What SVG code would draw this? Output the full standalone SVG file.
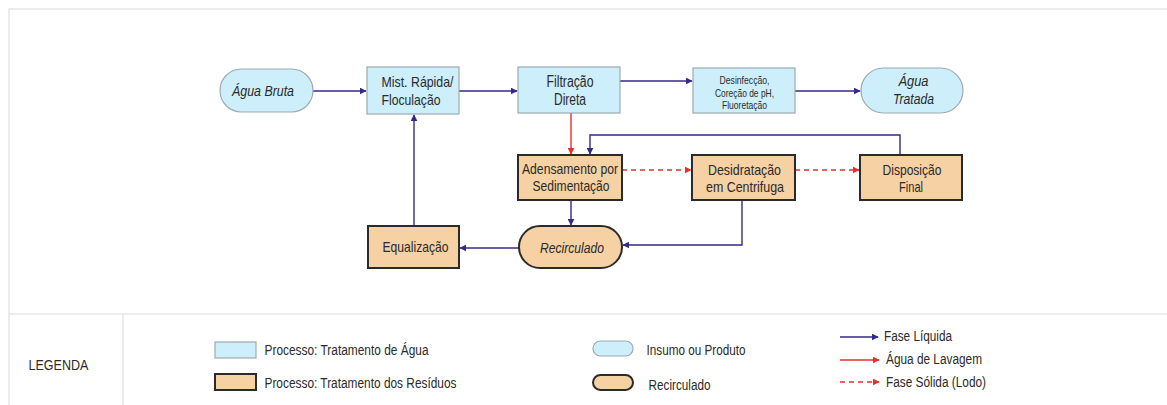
<svg xmlns="http://www.w3.org/2000/svg" width="1167" height="405" viewBox="0 0 1167 405">
<style>
  text { font-family: "Liberation Sans", Arial, sans-serif; fill: #2a2a2a; font-size: 14.5px; }
  .w { fill: #CDEFFB; stroke: #9EA9AD; stroke-width: 1.2; }
  .r { fill: #F6D1A3; stroke: #2b2b2b; stroke-width: 2; }
  .liq { fill: none; stroke: #35298A; stroke-width: 1.4; }
  .lav { fill: none; stroke: #E5302C; stroke-width: 1.4; }
  .sol { fill: none; stroke: #E5302C; stroke-width: 1.4; stroke-dasharray: 5 4; }
  .frame { fill: none; stroke: #e6e6e6; stroke-width: 1.5; }
  .n { text-anchor: middle; }
  .i { font-style: italic; }
  .s { font-size: 10.5px; }
  .lg { font-size: 14px; }
</style>
<defs>
  <marker id="aL" viewBox="0 0 10 10" refX="9" refY="5" markerWidth="7" markerHeight="7" markerUnits="userSpaceOnUse" orient="auto"><path d="M0,0 L10,5 L0,10 z" fill="#35298A"/></marker>
  <marker id="aR" viewBox="0 0 10 10" refX="9" refY="5" markerWidth="7" markerHeight="7" markerUnits="userSpaceOnUse" orient="auto"><path d="M0,0 L10,5 L0,10 z" fill="#E5302C"/></marker>
</defs>
<rect width="1167" height="405" fill="#fff"/>
<g id="frame">
  <path class="frame" d="M9,405 V9 H1167"/>
  <path class="frame" d="M9,314 H1167"/>
  <path class="frame" d="M123,314 V405"/>
</g>
<g id="connectors">
  <path class="liq" d="M313,91 H366" marker-end="url(#aL)"/>
  <path class="liq" d="M459,91 H517" marker-end="url(#aL)"/>
  <path class="liq" d="M620,81 H692" marker-end="url(#aL)"/>
  <path class="liq" d="M795,91 H860" marker-end="url(#aL)"/>
  <path class="lav" d="M571,113 V154" marker-end="url(#aR)"/>
  <path class="liq" d="M900,155 V135 H590 V154" marker-end="url(#aL)"/>
  <path class="sol" d="M622,170 H691" marker-end="url(#aR)"/>
  <path class="sol" d="M795,170 H859" marker-end="url(#aR)"/>
  <path class="liq" d="M571,200 V225" marker-end="url(#aL)"/>
  <path class="liq" d="M742,200 V245 H623" marker-end="url(#aL)"/>
  <path class="liq" d="M519,248 H460" marker-end="url(#aL)"/>
  <path class="liq" d="M414,226 V115" marker-end="url(#aL)"/>
</g>
<g id="agua-bruta">
  <rect class="w" x="220" y="69" width="93" height="43" rx="21.5"/>
  <text class="n i" x="263" y="96" textLength="62" lengthAdjust="spacingAndGlyphs">Água Bruta</text>
</g>
<g id="mist-rapida">
  <rect class="w" x="367" y="67" width="92" height="47"/>
  <text x="381.5" y="87" textLength="72" lengthAdjust="spacingAndGlyphs">Mist. Rápida/</text>
  <text x="381.5" y="105" textLength="59" lengthAdjust="spacingAndGlyphs">Floculação</text>
</g>
<g id="filtracao">
  <rect class="w" x="518" y="67" width="102" height="46"/>
  <text class="n" x="570" y="87" style="font-size:16px" textLength="47" lengthAdjust="spacingAndGlyphs">Filtração</text>
  <text class="n" x="570" y="105" style="font-size:16px" textLength="32" lengthAdjust="spacingAndGlyphs">Direta</text>
</g>
<g id="desinfeccao">
  <rect class="w" x="693" y="68" width="102" height="45"/>
  <text class="n s" x="744.5" y="84" textLength="50" lengthAdjust="spacingAndGlyphs">Desinfecção,</text>
  <text class="n s" x="744.5" y="96.5" textLength="59" lengthAdjust="spacingAndGlyphs">Coreção de pH,</text>
  <text class="n s" x="744.5" y="108.5" textLength="45" lengthAdjust="spacingAndGlyphs">Fluoretação</text>
</g>
<g id="agua-tratada">
  <rect class="w" x="861" y="68" width="102" height="45" rx="22.5"/>
  <text class="n i" x="913.5" y="86" textLength="30" lengthAdjust="spacingAndGlyphs">Água</text>
  <text class="n i" x="913.5" y="104" textLength="41" lengthAdjust="spacingAndGlyphs">Tratada</text>
</g>
<g id="adensamento">
  <rect class="r" x="518" y="155" width="104" height="45"/>
  <text class="n" x="570" y="174" textLength="96" lengthAdjust="spacingAndGlyphs">Adensamento por</text>
  <text class="n" x="571" y="190.5" textLength="77" lengthAdjust="spacingAndGlyphs">Sedimentação</text>
</g>
<g id="desidratacao">
  <rect class="r" x="692" y="155" width="103" height="45"/>
  <text class="n" x="744.5" y="175" textLength="73" lengthAdjust="spacingAndGlyphs">Desidratação</text>
  <text class="n" x="745" y="191.5" textLength="78" lengthAdjust="spacingAndGlyphs">em Centrifuga</text>
</g>
<g id="disposicao">
  <rect class="r" x="860" y="155" width="102" height="45"/>
  <text class="n" x="912" y="175" textLength="59" lengthAdjust="spacingAndGlyphs">Disposição</text>
  <text class="n" x="911" y="191.5" textLength="24" lengthAdjust="spacingAndGlyphs">Final</text>
</g>
<g id="equalizacao">
  <rect class="r" x="368" y="226" width="91" height="42"/>
  <text class="n" x="415.5" y="251.5" textLength="66" lengthAdjust="spacingAndGlyphs">Equalização</text>
</g>
<g id="recirculado">
  <rect class="r" x="519" y="226" width="103" height="42" rx="21"/>
  <text class="n i" x="572" y="253" textLength="64" lengthAdjust="spacingAndGlyphs">Recirculado</text>
</g>
<g id="legend">
  <text class="lg" x="28.5" y="370" textLength="60" lengthAdjust="spacingAndGlyphs">LEGENDA</text>
  <rect class="w" x="215" y="342" width="41" height="16"/>
  <text class="lg" x="264.5" y="354.5" textLength="164" lengthAdjust="spacingAndGlyphs">Processo: Tratamento de Água</text>
  <rect class="r" x="215" y="374" width="41" height="16"/>
  <text class="lg" x="264.5" y="387.5" textLength="192" lengthAdjust="spacingAndGlyphs">Processo: Tratamento dos Resíduos</text>
  <rect class="w" x="593" y="341" width="40" height="15" rx="7.5"/>
  <text class="lg" x="646.5" y="354.5" textLength="99" lengthAdjust="spacingAndGlyphs">Insumo ou Produto</text>
  <rect class="r" x="593" y="375" width="40" height="15" rx="7.5"/>
  <text class="lg" x="648.5" y="390" textLength="62" lengthAdjust="spacingAndGlyphs">Recirculado</text>
  <path class="liq" d="M840,337 H878" marker-end="url(#aL)"/>
  <text class="lg" x="884" y="340.5" textLength="68" lengthAdjust="spacingAndGlyphs">Fase Líquida</text>
  <path class="lav" d="M840,360 H879" marker-end="url(#aR)"/>
  <text class="lg" x="886" y="363.5" textLength="96" lengthAdjust="spacingAndGlyphs">Água de Lavagem</text>
  <path class="sol" d="M840,382 H879" stroke-dasharray="4 3" marker-end="url(#aR)"/>
  <text class="lg" x="886" y="386.5" textLength="100" lengthAdjust="spacingAndGlyphs">Fase Sólida (Lodo)</text>
</g>
</svg>
